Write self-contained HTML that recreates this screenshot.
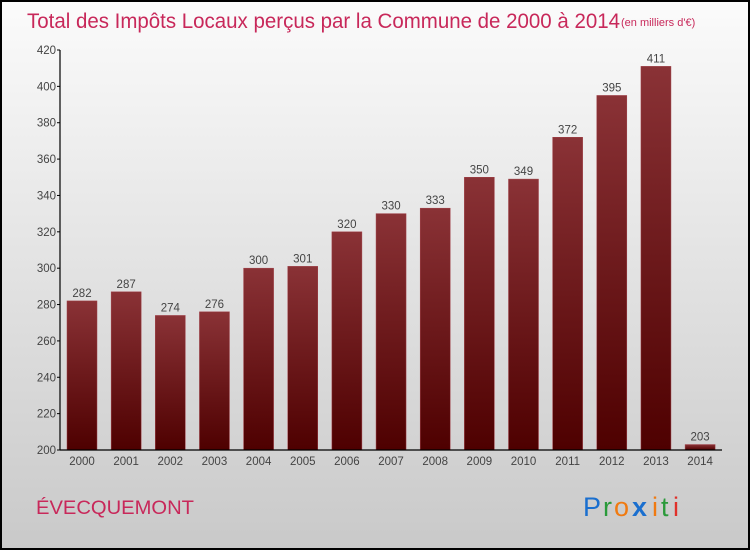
<!DOCTYPE html>
<html><head><meta charset="utf-8"><style>
body{margin:0}
svg{display:block;font-family:"Liberation Sans",sans-serif}
</style></head><body>
<svg id="c" width="750" height="550">
<defs>
<linearGradient id="bg" x1="0" y1="0" x2="0" y2="1"><stop offset="0" stop-color="#fbfbfb"/><stop offset="1" stop-color="#c9c9c9"/></linearGradient>
<linearGradient id="bar" x1="0" y1="0" x2="0" y2="1"><stop offset="0" stop-color="#8a3236"/><stop offset="1" stop-color="#4e0000"/></linearGradient>
</defs>
<rect x="1" y="1" width="748" height="548" fill="url(#bg)" stroke="#000" stroke-width="2"/>
<text x="27" y="28" font-size="21" fill="#c8285a" textLength="593" lengthAdjust="spacingAndGlyphs">Total des Impôts Locaux perçus par la Commune de 2000 à 2014</text>
<text x="621" y="26" font-size="11" fill="#c8285a">(en milliers d'€)</text>
<text x="36" y="514" font-size="19" fill="#c8285a" textLength="158" lengthAdjust="spacingAndGlyphs">ÉVECQUEMONT</text>
<g font-size="27">
<text x="583" y="516" fill="#1a6fcf">P</text><text x="603" y="516" fill="#2a9a3a">r</text><text x="614" y="516" fill="#f07a10">o</text><text x="632" y="516" fill="#1a6fcf" font-weight="bold">x</text><text x="652" y="516" fill="#f07a10">i</text><text x="661" y="516" fill="#2a9a3a">t</text><text x="673" y="516" fill="#e0302a">i</text>
</g>
<g id="plot"></g>
</svg>
<script>
const categories=["2000","2001","2002","2003","2004","2005","2006","2007","2008","2009","2010","2011","2012","2013","2014"];
const values=[282,287,274,276,300,301,320,330,333,350,349,372,395,411,203];
const yTicks=[200,220,240,260,280,300,320,340,360,380,400,420];
const yMin=200,yMax=420,y0=450,y1=50,x0=60;
const y=v=>y0-(v-yMin)/(yMax-yMin)*(y0-y1);
const x=i=>82+i*44.15;
const ns="http://www.w3.org/2000/svg",g=document.getElementById('plot');
function mk(t,a,txt){const e=document.createElementNS(ns,t);for(const k in a)e.setAttribute(k,a[k]);if(txt!=null)e.textContent=txt;g.appendChild(e);return e;}
values.forEach((v,i)=>{
 const r=mk('rect',{x:x(i)-15,y:y(v),width:30,height:y0-y(v),fill:'url(#bar)',stroke:'#a04048','stroke-width':0.5});
 
 
 const t=mk('text',{x:x(i),y:y(v)-4,'text-anchor':'middle','font-size':11.5,fill:'#444'},String(v));
 
 
 const c=mk('text',{x:x(i),y:465,'text-anchor':'middle','font-size':11.5,fill:'#444'},categories[i]);
 
 
});
yTicks.forEach(v=>{
 const l=mk('line',{x1:x0-3,x2:x0,y1:y(v),y2:y(v),stroke:'#000'});
 
 
 const t=mk('text',{x:x0-4,y:y(v)+4,'text-anchor':'end','font-size':11.5,fill:'#444'},String(v));
 
 
});
const ya=mk('line',{x1:x0,x2:x0,y1:y1,y2:y0,stroke:'#000','stroke-width':1.2});


const xa=mk('line',{x1:x0,x2:722,y1:y0,y2:y0,stroke:'#000','stroke-width':1.2});


</script>
</body></html>
